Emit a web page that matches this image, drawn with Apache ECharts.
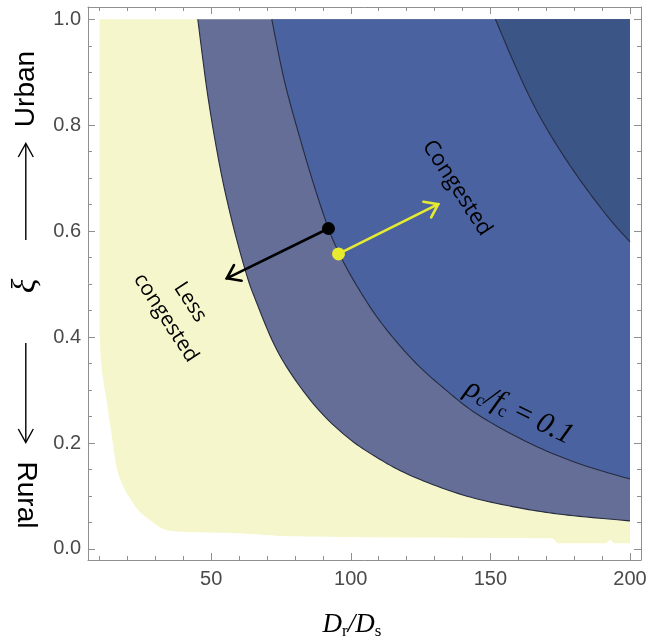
<!DOCTYPE html>
<html><head><meta charset="utf-8">
<script src="https://cdn.jsdelivr.net/npm/echarts@6/dist/echarts.min.js"></script>
<style>html,body{margin:0;padding:0;background:#fff}#c{width:661px;height:644px}</style>
</head><body><div id="c"></div>
<script>
// ---- tick values ----
const xMajorTicks = [50, 100, 150, 200];
const xMinorTicks = [10, 20, 30, 40, 60, 70, 80, 90, 110, 120, 130, 140, 160, 170, 180, 190];
const yMajorTicks = [0, 0.2, 0.4, 0.6, 0.8, 1.0];
const yMinorTicks = [0.05, 0.1, 0.15, 0.25, 0.3, 0.35, 0.45, 0.5, 0.55, 0.65, 0.7, 0.75, 0.85, 0.9, 0.95];

// ---- yellow (computed) domain: curved lower-left boundary, then flat bottom ----
const yellowCurveD  = [10, 10.7, 12.5, 14.3, 16.1, 18.5, 21.3, 24.4, 28.0, 32.8, 38.7, 50, 60.2, 74.3];
const yellowCurveXi = [0.413, 0.344, 0.281, 0.218, 0.155, 0.118, 0.0925, 0.0704, 0.0547, 0.0378, 0.0327, 0.031, 0.0296, 0.0245];
const yellowFlatD   = [103, 140, 172.2, 174.1, 191.4, 193, 194.3, 200];
const yellowFlatXi  = [0.022, 0.021, 0.0202, 0.0108, 0.0108, 0.018, 0.0108, 0.0108];

// ---- contour A (yellow / slate boundary) ----
const contourA_D  = [45.2, 48.8, 53.0, 57.2, 62.0, 65.6, 74.3, 86.3, 98.3, 110.2, 122.2, 140.1, 158.0, 175.9, 200];
const contourA_Xi = [1.0, 0.855, 0.725, 0.624, 0.530, 0.474, 0.368, 0.276, 0.213, 0.170, 0.137, 0.102, 0.080, 0.065, 0.053];

// ---- contour B (slate / blue boundary, rho_c/f_c = 0.1) ----
const contourB_D  = [71.7, 76.3, 82.2, 87.1, 92.0, 95.5, 100.9, 110.2, 122.2, 134.1, 146.0, 163.9, 181.8, 200];
const contourB_Xi = [1.0, 0.882, 0.768, 0.682, 0.605, 0.562, 0.508, 0.432, 0.357, 0.300, 0.252, 0.200, 0.161, 0.132];

// ---- contour C (blue / dark boundary) ----
const contourC_D  = [151.8, 158.0, 164.0, 169.9, 177.1, 185.5, 193.8, 200];
const contourC_Xi = [1.0, 0.923, 0.854, 0.796, 0.735, 0.672, 0.616, 0.580];

// ---- arrows: [D, xi] start and end ----
const blackArrowStart = [92.0, 0.605];
const blackArrowEnd   = [55.6, 0.511];
const yellowArrowStart = [95.6, 0.557];
const yellowArrowEnd   = [131.3, 0.651];

const COL_YELLOW = '#F5F6CB', COL_SLATE = '#646E96', COL_BLUE = '#4A63A0', COL_DARK = '#3A5586';
const COL_LINE = '#262b40', COL_FRAME = '#8f8f8f', COL_ARROWY = '#E8EA30';

function spline(pts, seg) {
  if (pts.length < 3) return pts;
  const out = [pts[0]];
  for (let i = 0; i < pts.length - 1; i++) {
    const p0 = pts[i - 1] || pts[i], p1 = pts[i], p2 = pts[i + 1], p3 = pts[i + 2] || pts[i + 1];
    for (let s = 1; s <= seg; s++) {
      const t = s / seg, t2 = t * t, t3 = t2 * t;
      const f = k => 0.5 * ((2 * p1[k]) + (-p0[k] + p2[k]) * t + (2 * p0[k] - 5 * p1[k] + 4 * p2[k] - p3[k]) * t2 + (-p0[k] + 3 * p1[k] - 3 * p2[k] + p3[k]) * t3);
      out.push([f(0), f(1)]);
    }
  }
  return out;
}
function px(api, Ds, Xs) { return Ds.map((d, i) => api.coord([d, Xs[i]])); }

function yellowSeries(z) {
  return {
    type: 'custom', coordinateSystem: 'cartesian2d', silent: true, z: z, data: [[0, 0]],
    renderItem: (params, api) => {
      const pts = [api.coord([10, 1.0])]
        .concat(spline(px(api, yellowCurveD, yellowCurveXi), 10))
        .concat(px(api, yellowFlatD, yellowFlatXi))
        .concat([api.coord([200, 1.0])]);
      return { type: 'polygon', shape: { points: pts }, style: { fill: COL_YELLOW, stroke: null } };
    }
  };
}
function regionSeries(color, Ds, Xs, extra, z) {
  return {
    type: 'custom', coordinateSystem: 'cartesian2d', silent: true, z: z, data: [[0, 0]],
    renderItem: (params, api) => {
      const p = spline(px(api, Ds, Xs), 12);
      const e = extra.map(v => api.coord(v));
      return { type: 'polygon', shape: { points: p.concat(e) }, style: { fill: color, stroke: null } };
    }
  };
}
function contourSeries(Ds, Xs, z) {
  return {
    type: 'custom', coordinateSystem: 'cartesian2d', silent: true, z: z, data: [[0, 0]],
    renderItem: (params, api) => ({ type: 'polyline', shape: { points: spline(px(api, Ds, Xs), 12) },
      style: { stroke: COL_LINE, lineWidth: 1.1, fill: null } })
  };
}
function arrowSeries(from, to, color, z) {
  return {
    type: 'custom', coordinateSystem: 'cartesian2d', silent: true, z: z, data: [[0, 0]],
    renderItem: (params, api) => {
      const a = api.coord(from), b = api.coord(to);
      const ang = Math.atan2(b[1] - a[1], b[0] - a[0]), L = 15, sp = 0.62;
      const h1 = [b[0] - L * Math.cos(ang - sp), b[1] - L * Math.sin(ang - sp)];
      const h2 = [b[0] - L * Math.cos(ang + sp), b[1] - L * Math.sin(ang + sp)];
      return { type: 'group', children: [
        { type: 'line', shape: { x1: a[0], y1: a[1], x2: b[0], y2: b[1] }, style: { stroke: color, lineWidth: 2.6, lineCap: 'round' } },
        { type: 'polyline', shape: { points: [h1, b, h2] }, style: { stroke: color, lineWidth: 2.6, fill: null, lineCap: 'round', lineJoin: 'miter' } },
        { type: 'circle', shape: { cx: a[0], cy: a[1], r: 6.5 }, style: { fill: color } }
      ] };
    }
  };
}

const chart = echarts.init(document.getElementById('c'), null, { renderer: 'canvas' });
const lbl = { color: '#4a4a4a', fontSize: 20, fontFamily: '"Liberation Sans", Arial, sans-serif' };
const xMin = 5.88, xMax = 203.94, yMin = -0.0208, yMax = 1.0232;
function xAx(pos, ticks, len, line, labels) {
  return { type: 'value', position: pos, min: xMin, max: xMax, splitLine: { show: false },
    axisLine: { show: line, onZero: false, lineStyle: { color: COL_FRAME, width: 1 } },
    axisTick: { show: true, inside: true, length: len, customValues: ticks, lineStyle: { color: COL_FRAME } },
    axisLabel: labels ? Object.assign({ show: true, customValues: xMajorTicks, margin: 9 }, lbl) : { show: false } };
}
function yAx(pos, ticks, len, line, labels) {
  return { type: 'value', position: pos, min: yMin, max: yMax, splitLine: { show: false },
    axisLine: { show: line, onZero: false, lineStyle: { color: COL_FRAME, width: 1 } },
    axisTick: { show: true, inside: true, length: len, customValues: ticks, lineStyle: { color: COL_FRAME } },
    axisLabel: labels ? Object.assign({ show: true, customValues: yMajorTicks, margin: 7, formatter: v => v.toFixed(1) }, lbl) : { show: false } };
}

const serif = '"Liberation Serif", "DejaVu Serif", serif';
const option = {
  animation: false,
  backgroundColor: '#ffffff',
  grid: { left: 88, right: 20, top: 7, bottom: 84 },
  xAxis: [
    xAx('bottom', xMinorTicks, 4, true, true),
    xAx('bottom', xMajorTicks, 7, false, false),
    xAx('top', xMinorTicks, 4, true, false),
    xAx('top', xMajorTicks, 7, false, false)
  ],
  yAxis: [
    yAx('left', yMinorTicks, 4, true, true),
    yAx('left', yMajorTicks, 7, false, false),
    yAx('right', yMinorTicks, 4, true, false),
    yAx('right', yMajorTicks, 7, false, false)
  ],
  series: [
    yellowSeries(1),
    regionSeries(COL_SLATE, contourA_D, contourA_Xi, [[200, 1.0]], 2),
    regionSeries(COL_BLUE, contourB_D, contourB_Xi, [[200, 1.0]], 3),
    regionSeries(COL_DARK, contourC_D, contourC_Xi, [[200, 1.0]], 4),
    contourSeries(contourA_D, contourA_Xi, 5),
    contourSeries(contourB_D, contourB_Xi, 5),
    contourSeries(contourC_D, contourC_Xi, 5),
    arrowSeries(blackArrowStart, blackArrowEnd, '#000000', 6),
    arrowSeries(yellowArrowStart, yellowArrowEnd, COL_ARROWY, 6)
  ],
  graphic: [
    { type: 'text', z: 100, x: 457, y: 188, rotation: -57 * Math.PI / 180,
      style: { text: 'Congested', font: '22px "Open Sans", sans-serif', fill: '#000', align: 'center', verticalAlign: 'middle', textAlign: 'center', textVerticalAlign: 'middle' } },
    { type: 'text', z: 100, x: 178, y: 310, rotation: -57 * Math.PI / 180,
      style: { text: 'Less\ncongested', font: '21px "Open Sans", sans-serif', lineHeight: 29, fill: '#000', align: 'center', verticalAlign: 'middle', textAlign: 'center', textVerticalAlign: 'middle' } },
    { type: 'text', z: 100, x: 519, y: 412, rotation: -26 * Math.PI / 180,
      style: { text: '{i|ρ}{s|c}{i|/f}{s|c}{n| = }{i|0.1}', fill: '#000', align: 'center', verticalAlign: 'middle', textAlign: 'center', textVerticalAlign: 'middle',
        rich: { i: { fontFamily: serif, fontStyle: 'italic', fontSize: 30, lineHeight: 32, color: '#000' },
                n: { fontFamily: serif, fontSize: 30, lineHeight: 32, color: '#000' },
                s: { fontFamily: serif, fontSize: 18, lineHeight: 18, verticalAlign: 'bottom', color: '#000' } } } },
    { type: 'text', z: 100, x: 352, y: 625,
      style: { text: '{i|D}{s|r}{i|/D}{s|s}', fill: '#000', align: 'center', verticalAlign: 'middle', textAlign: 'center', textVerticalAlign: 'middle',
        rich: { i: { fontFamily: serif, fontStyle: 'italic', fontSize: 27, lineHeight: 30, color: '#000' },
                s: { fontFamily: serif, fontSize: 17, lineHeight: 16, verticalAlign: 'bottom', color: '#000' } } } },
    { type: 'text', z: 100, x: 26, y: 89, rotation: Math.PI / 2,
      style: { text: 'Urban', font: '28px "Liberation Sans", Arial, sans-serif', fill: '#000', align: 'center', verticalAlign: 'middle', textAlign: 'center', textVerticalAlign: 'middle' } },
    { type: 'text', z: 100, x: 26, y: 495, rotation: -Math.PI / 2,
      style: { text: 'Rural', font: '28px "Liberation Sans", Arial, sans-serif', fill: '#000', align: 'center', verticalAlign: 'middle', textAlign: 'center', textVerticalAlign: 'middle' } },
    { type: 'text', z: 100, x: 26, y: 286, rotation: Math.PI / 2,
      style: { text: 'ξ', font: 'italic 34px "Liberation Serif", serif', fill: '#000', align: 'center', verticalAlign: 'middle', textAlign: 'center', textVerticalAlign: 'middle' } },
    { type: 'line', z: 100, shape: { x1: 25.8, y1: 240, x2: 25.8, y2: 144 }, style: { stroke: '#000', lineWidth: 1.4 } },
    { type: 'polyline', z: 100, shape: { points: [[18.3, 157], [25.8, 143.5], [33.3, 157]] }, style: { stroke: '#000', lineWidth: 1.4, fill: null } },
    { type: 'line', z: 100, shape: { x1: 25.8, y1: 343, x2: 25.8, y2: 442 }, style: { stroke: '#000', lineWidth: 1.4 } },
    { type: 'polyline', z: 100, shape: { points: [[18.3, 429], [25.8, 442.5], [33.3, 429]] }, style: { stroke: '#000', lineWidth: 1.4, fill: null } }
  ]
};
chart.setOption(option);
</script>
</body></html>
